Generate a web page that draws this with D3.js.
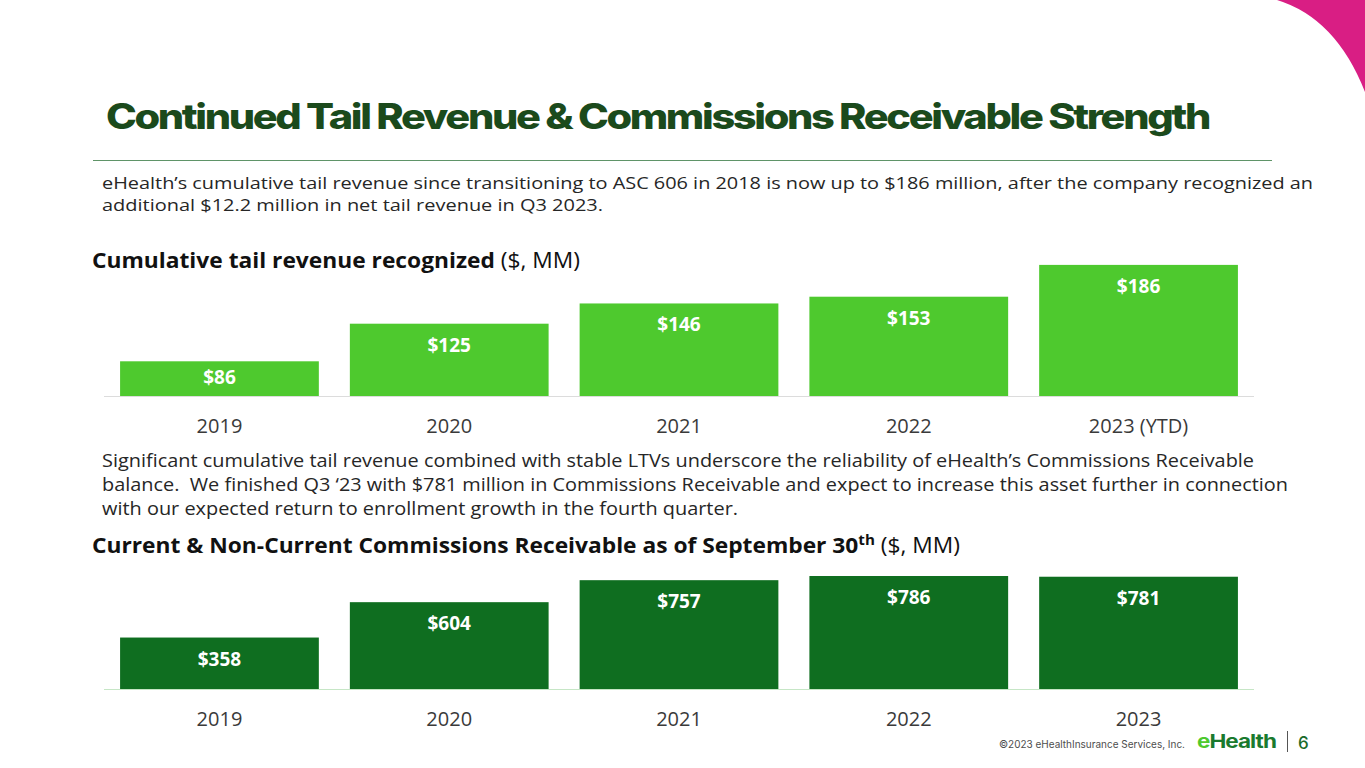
<!DOCTYPE html>
<html>
<head>
<meta charset="utf-8">
<script src="https://cdn.jsdelivr.net/npm/d3@7"></script>
<style>
  html, body { margin: 0; padding: 0; background: #fff; }
  svg { display: block; }
  text { white-space: pre; }
</style>
</head>
<body>
<script>
var width = 1365, height = 768

// chart data
var tailYears = ["2019", "2020", "2021", "2022", "2023 (YTD)"]
var tailValues = [86, 125, 146, 153, 186]
var recvYears = ["2019", "2020", "2021", "2022", "2023"]
var recvValues = [358, 604, 757, 786, 781]

var bodyFont = "'Open Sans', 'Noto Sans', sans-serif"
var titleFont = "Inter, 'Noto Sans', sans-serif"

var svg = d3.select("body").append("svg")
    .attr("width", width)
    .attr("height", height)

// pink corner
svg.append("path")
    .attr("d", "M1277,0 Q1336,18 1365,92 L1365,0 Z")
    .attr("fill", "#d91e84")

// title
svg.append("text")
    .text("Continued Tail Revenue & Commissions Receivable Strength")
    .attr("x", 106)
    .attr("y", 129)
    .attr("font-family", titleFont)
    .attr("font-weight", 800)
    .attr("font-size", 35)
    .attr("letter-spacing", -2)
    .attr("fill", "#1b4a1c")
    .attr("textLength", 1103)
    .attr("lengthAdjust", "spacingAndGlyphs")

svg.append("line") // title rule
    .attr("x1", 93).attr("x2", 1272)
    .attr("y1", 160.5).attr("y2", 160.5)
    .attr("stroke", "#5f9468")
    .attr("stroke-width", 1)

function paragraph(lines, y0, lh, fs) {
  lines.forEach(function(l, i) {
    svg.append("text")
      .text(l[0])
      .attr("x", 102)
      .attr("y", y0 + i * lh)
      .attr("font-family", bodyFont)
      .attr("font-size", fs)
      .attr("fill", "#262626")
      .attr("textLength", l[1])
      .attr("lengthAdjust", "spacingAndGlyphs")
  })
}

paragraph([
  ["eHealth\u2019s cumulative tail revenue since transitioning to ASC 606 in 2018 is now up to $186 million, after the company recognized an", 1211],
  ["additional $12.2 million in net tail revenue in Q3 2023.", 501]
], 189, 22, 16.2)

paragraph([
  ["Significant cumulative tail revenue combined with stable LTVs underscore the reliability of eHealth\u2019s Commissions Receivable", 1152],
  ["balance.  We finished Q3 \u201823 with $781 million in Commissions Receivable and expect to increase this asset further in connection", 1186],
  ["with our expected return to enrollment growth in the fourth quarter.", 636]
], 467, 23.8, 17.4)

// section headings
function heading(y, bold, sup, rest, len) {
  var t = svg.append("text")
    .attr("x", 92)
    .attr("y", y)
    .attr("font-family", bodyFont)
    .attr("font-size", 21)
    .attr("fill", "#111")
    .attr("textLength", len)
    .attr("lengthAdjust", "spacingAndGlyphs")
  t.append("tspan").attr("font-weight", 700).text(bold)
  if (sup) {
    t.append("tspan").attr("font-weight", 700).attr("font-size", 14).attr("dy", -8).text(sup)
    t.append("tspan").attr("dy", 8).text(rest)
  } else {
    t.append("tspan").text(rest)
  }
}
heading(268, "Cumulative tail revenue recognized", null, " ($, MM)", 488)
heading(553, "Current & Non-Current Commissions Receivable as of September 30", "th", " ($, MM)", 868)

// bar chart helper
function barChart(cats, vals, y, base, color, baseColor) {
  var x = d3.scaleBand()
      .domain(cats)
      .range([104, 1254])
      .paddingInner(0.135)
      .paddingOuter(0.07)

  var g = svg.append("g")

  g.append("line")
    .attr("x1", 104).attr("x2", 1254)
    .attr("y1", base + 0.5).attr("y2", base + 0.5)
    .attr("stroke", baseColor)
    .attr("stroke-width", 1)

  g.selectAll("rect")
    .data(vals)
    .enter().append("rect")
    .attr("x", function(d, i) { return x(cats[i]) })
    .attr("y", function(d) { return y(d) })
    .attr("width", x.bandwidth())
    .attr("height", function(d) { return base - y(d) })
    .attr("fill", color)

  g.selectAll("text.val")
    .data(vals)
    .enter().append("text")
    .attr("class", "val")
    .text(function(d) { return "$" + d })
    .attr("x", function(d, i) { return x(cats[i]) + x.bandwidth() / 2 })
    .attr("y", function(d) { return Math.min(y(d) + 28, (y(d) + base) / 2 + 5) })
    .attr("text-anchor", "middle")
    .attr("font-family", bodyFont)
    .attr("font-weight", 700)
    .attr("font-size", 19)
    .attr("fill", "#fff")

  var axis = d3.axisBottom(x).tickSize(0).tickPadding(0)
  var ax = g.append("g")
    .attr("transform", "translate(0," + (base + 22) + ")")
    .call(axis)
  ax.select(".domain").remove()
  ax.selectAll("text")
    .attr("dy", 14.5)
    .attr("font-family", bodyFont)
    .attr("font-size", 20)
    .attr("fill", "#3a3a3a")
}

var yTail = d3.scaleLinear().domain([50, 200]).range([396, 251.4])
barChart(tailYears, tailValues, yTail, 396, "#4ec92e", "#dcdcdc")

var yRecv = d3.scaleLinear().domain([0, 800]).range([689, 574])
barChart(recvYears, recvValues, yRecv, 689, "#0f6e20", "#c6e6c6")

// footer
svg.append("text")
    .text("\u00a92023 eHealthInsurance Services, Inc.")
    .attr("x", 999)
    .attr("y", 748)
    .attr("font-family", titleFont)
    .attr("font-size", 10.5)
    .attr("fill", "#4d4d4d")
    .attr("textLength", 186)
    .attr("lengthAdjust", "spacingAndGlyphs")

var logo = svg.append("text")
    .attr("x", 1197)
    .attr("y", 748)
    .attr("font-family", titleFont)
    .attr("font-weight", 700)
    .attr("font-size", 19)
    .attr("letter-spacing", -0.8)
    .attr("textLength", 79)
    .attr("lengthAdjust", "spacingAndGlyphs")
logo.append("tspan").attr("fill", "#4ec92e").text("e")
logo.append("tspan").attr("fill", "#1a7a2e").text("Health")

svg.append("line")
    .attr("x1", 1287.5).attr("x2", 1287.5)
    .attr("y1", 731).attr("y2", 752)
    .attr("stroke", "#555")
    .attr("stroke-width", 1)

svg.append("text")
    .text("6")
    .attr("x", 1298)
    .attr("y", 749)
    .attr("font-family", titleFont)
    .attr("font-weight", 500)
    .attr("font-size", 17)
    .attr("fill", "#1a6b2a")
</script>
</body>
</html>
